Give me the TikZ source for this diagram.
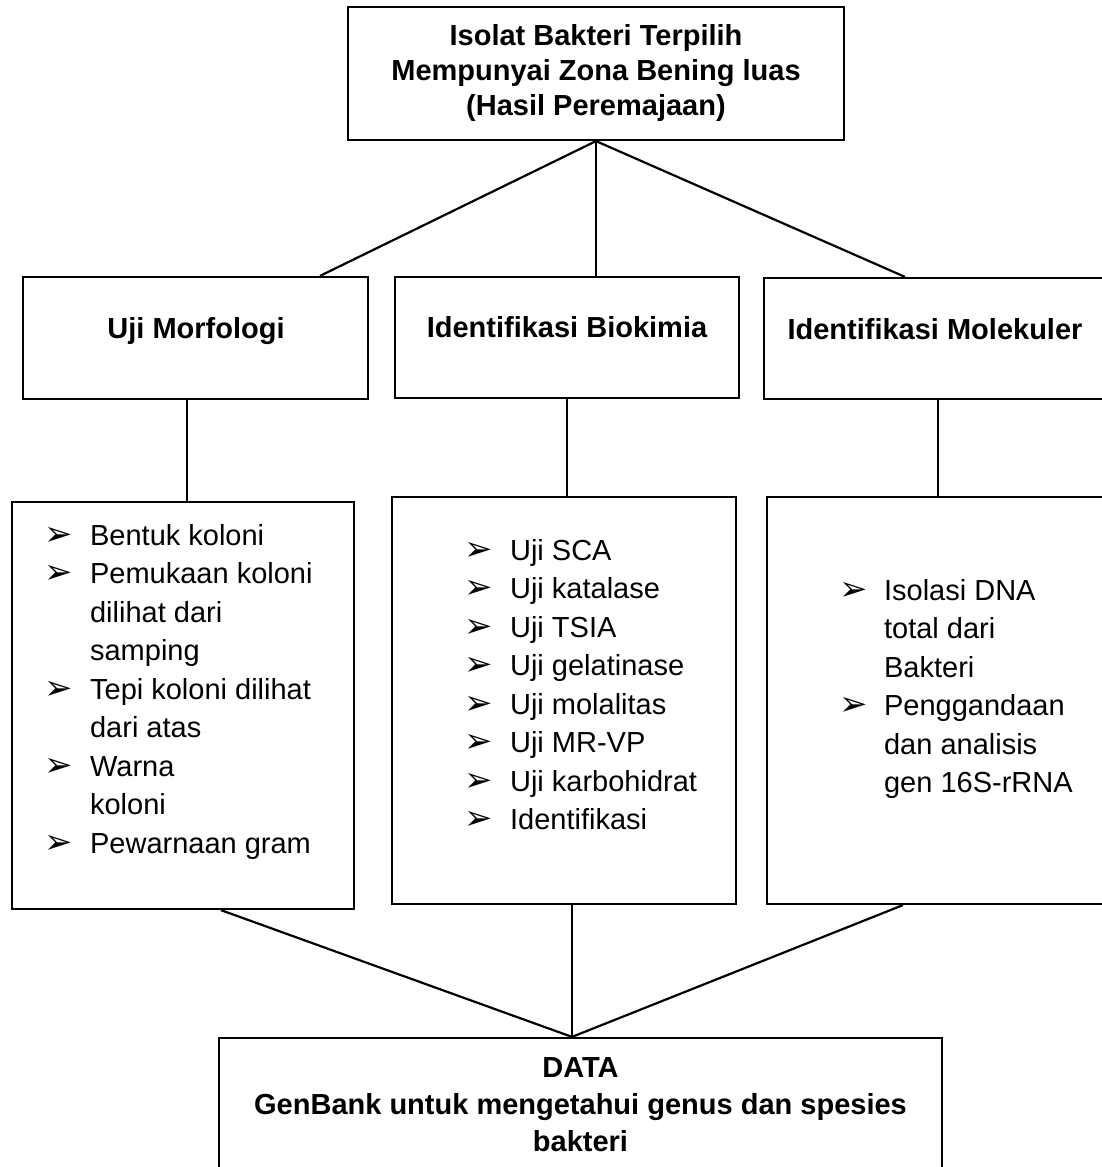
\documentclass[tikz,border=0pt]{standalone}
\usepackage{fontspec}
\setmainfont{Liberation Sans}
\newfontfamily\bulletfont{DejaVu Sans}
\usepackage{tikz}

\newcommand{\arr}{{\bulletfont\fontsize{34}{34}\selectfont\char"27A2}}

\begin{document}
\begin{tikzpicture}[x=1pt, y=-1pt, line width=2.2pt,
    box/.style={draw, rectangle, inner sep=0pt},
    title/.style={font=\fontsize{29}{35}\selectfont\bfseries, align=center, inner sep=0pt},
    items/.style={font=\fontsize{29}{38.5}\selectfont, anchor=base west, inner sep=0pt}]
    % Fix the page size
    \useasboundingbox (0,0) rectangle (1102,1167);

    % Top box
    \node[box, title, minimum width=496pt, minimum height=133pt] (isolat) at (596,73.5)
        {Isolat Bakteri Terpilih\\Mempunyai Zona Bening luas\\(Hasil Peremajaan)};

    % The three tests
    \node[box, minimum width=345pt, minimum height=122pt] (morf) at (195.5,338) {};
    \node[box, minimum width=344pt, minimum height=121pt] (biok) at (567,337.5) {};
    \node[box, minimum width=342pt, minimum height=121pt] (molek) at (935,338.5) {};
    \node[title, anchor=base] (morfT) at (196,338) {Uji Morfologi};
    \node[title, anchor=base] (biokT) at (567,337) {Identifikasi Biokimia};
    \node[title, anchor=base] (molekT) at (935,339) {Identifikasi Molekuler};

    % The lists below them
    \node[box, minimum width=342pt, minimum height=407pt] (morfList) at (183,705.5) {};
    \node[box, minimum width=344pt, minimum height=407pt] (biokList) at (564,700.5) {};
    \node[box, minimum width=342pt, minimum height=407pt] (molekList) at (938,700.5) {};

    \node[items] (morfItems) at (43,545) {\begin{tabular}[t]{@{}p{46pt}@{}l@{}}
        \arr & Bentuk koloni\\
        \arr & Pemukaan koloni\\
             & dilihat dari\\
             & samping\\
        \arr & Tepi koloni dilihat\\
             & dari atas\\
        \arr & Warna\\
             & koloni\\
        \arr & Pewarnaan gram
    \end{tabular}};
    \node[items] (biokItems) at (463,560) {\begin{tabular}[t]{@{}p{46pt}@{}l@{}}
        \arr & Uji SCA\\
        \arr & Uji katalase\\
        \arr & Uji TSIA\\
        \arr & Uji gelatinase\\
        \arr & Uji molalitas\\
        \arr & Uji MR-VP\\
        \arr & Uji karbohidrat\\
        \arr & Identifikasi
    \end{tabular}};
    \node[items] (molekItems) at (838,600) {\begin{tabular}[t]{@{}p{45pt}@{}l@{}}
        \arr & Isolasi DNA\\
             & total dari\\
             & Bakteri\\
        \arr & Penggandaan\\
             & dan analisis\\
             & gen 16S-rRNA
    \end{tabular}};

    % Bottom box
    \node[box, title, font=\fontsize{29}{37}\selectfont\bfseries, minimum width=723pt, minimum height=134pt] (data) at (580.5,1105)
        {DATA\\GenBank untuk mengetahui genus dan spesies\\bakteri};

    % Connect the top box to the three tests
    \draw (isolat.south) -- ([xshift=124.5pt]morf.north);
    \draw (isolat.south) -- (isolat.south |- biok.north);
    \draw (isolat.south) -- ([xshift=-30pt]molek.north);

    % Down to the lists
    \draw ([xshift=4pt]morfList.north) -- ([xshift=4pt]morfList.north |- morf.south);
    \draw (biok.south) -- (biok.south |- biokList.north);
    \draw (molekList.north) -- (molekList.north |- molek.south);

    % Lists to the data box
    \coordinate (meet) at ([xshift=-8.5pt]data.north);
    \draw ([xshift=210pt]morfList.south west) -- (meet);
    \draw ([xshift=8pt]biokList.south) -- (meet);
    \draw ([xshift=137pt]molekList.south west) -- (meet);
\end{tikzpicture}
\end{document}
